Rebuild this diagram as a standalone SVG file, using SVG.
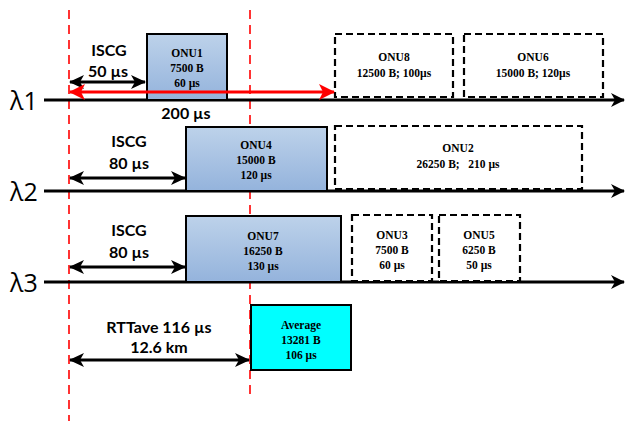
<svg xmlns="http://www.w3.org/2000/svg" width="626" height="421" viewBox="0 0 626 421">
<style>
.axis{stroke:#000;stroke-width:3;fill:none}
.vdash{stroke:#ff0000;stroke-width:1.6;stroke-dasharray:9,6;fill:none}
.barr{stroke:#000;stroke-width:3;fill:none}
.rarr{stroke:#ff0000;stroke-width:3;fill:none}
.blue{fill:url(#bg);stroke:#000;stroke-width:2}
.dbox{fill:#fff;stroke:#000;stroke-width:2.2;stroke-dasharray:7,4}
.avg{fill:#00ffff;stroke:#000;stroke-width:2}
.lam{font-family:"Open Sans","Liberation Sans",sans-serif;font-size:25px;fill:#000}
.lbl{font-family:Lato,"Open Sans",sans-serif;font-weight:bold;font-size:16px;fill:#000;text-anchor:middle}
.onu{font-family:"Liberation Serif",serif;font-weight:bold;font-size:11.5px;fill:#000;text-anchor:middle}
</style>
<defs>
<linearGradient id="bg" x1="0" y1="0" x2="0" y2="1">
<stop offset="0" stop-color="#bdd2ea"/>
<stop offset="1" stop-color="#94b3dc"/>
</linearGradient>
<marker id="ha" viewBox="0 0 15 14" refX="14" refY="7" markerWidth="15" markerHeight="14" markerUnits="userSpaceOnUse" orient="auto-start-reverse">
<path d="M0,0 L15,7 L0,14 L4,7 Z" fill="#000"/>
</marker>
<marker id="hb" viewBox="0 0 14 14" refX="13" refY="7" markerWidth="14" markerHeight="14" markerUnits="userSpaceOnUse" orient="auto-start-reverse">
<path d="M0,0 L14,7 L0,14 L4,7 Z" fill="#000"/>
</marker>
<marker id="hr" viewBox="0 0 16 16" refX="15" refY="8" markerWidth="16" markerHeight="16" markerUnits="userSpaceOnUse" orient="auto-start-reverse">
<path d="M0,0 L16,8 L0,16 L4,8 Z" fill="#ff0000"/>
</marker>
</defs>
<g id="guides">
<line class="vdash" x1="69" y1="10" x2="69" y2="421"/>
<line class="vdash" x1="250" y1="10" x2="250" y2="400"/>
</g>
<g id="axes">
<line class="axis" x1="44" y1="100" x2="624" y2="100" marker-end="url(#hb)"/>
<line class="axis" x1="44" y1="191" x2="624" y2="191" marker-end="url(#hb)"/>
<line class="axis" x1="44" y1="282" x2="624" y2="282" marker-end="url(#hb)"/>
<text class="lam" x="10" y="110">λ1</text>
<text class="lam" x="10" y="201">λ2</text>
<text class="lam" x="10" y="292">λ3</text>
</g>
<g id="onu1"><rect class="blue" x="147" y="34" width="80" height="66"/>
<text class="onu" x="187" y="57">ONU1</text><text class="onu" x="187" y="72">7500 B</text><text class="onu" x="187" y="87">60 µs</text></g>
<g id="onu8"><rect class="dbox" x="335" y="34" width="118" height="63"/>
<text class="onu" x="394" y="61">ONU8</text><text class="onu" x="394" y="77">12500 B; 100µs</text></g>
<g id="onu6"><rect class="dbox" x="464" y="34" width="139" height="63"/>
<text class="onu" x="533" y="61">ONU6</text><text class="onu" x="533" y="77">15000 B; 120µs</text></g>
<g id="onu4"><rect class="blue" x="186" y="127" width="141" height="64"/>
<text class="onu" x="256" y="149">ONU4</text><text class="onu" x="256" y="164">15000 B</text><text class="onu" x="256" y="179">120 µs</text></g>
<g id="onu2"><rect class="dbox" x="335" y="126" width="247" height="63"/>
<text class="onu" x="458" y="152">ONU2</text><text class="onu" x="458" y="168">26250 B;&#160;&#160; 210 µs</text></g>
<g id="onu7"><rect class="blue" x="186" y="216" width="155" height="66"/>
<text class="onu" x="263" y="240">ONU7</text><text class="onu" x="263" y="255">16250 B</text><text class="onu" x="263" y="270">130 µs</text></g>
<g id="onu3"><rect class="dbox" x="352" y="215" width="80" height="66"/>
<text class="onu" x="392" y="239">ONU3</text><text class="onu" x="392" y="254">7500 B</text><text class="onu" x="392" y="269">60 µs</text></g>
<g id="onu5"><rect class="dbox" x="439" y="215" width="81" height="66"/>
<text class="onu" x="479" y="239">ONU5</text><text class="onu" x="479" y="254">6250 B</text><text class="onu" x="479" y="269">50 µs</text></g>
<g id="average"><rect class="avg" x="251" y="305" width="100" height="65"/>
<text class="onu" x="301" y="329">Average</text><text class="onu" x="301" y="344">13281 B</text><text class="onu" x="301" y="359">106 µs</text></g>
<g id="connectors">
<line class="barr" x1="70" y1="82" x2="145" y2="82" marker-start="url(#ha)" marker-end="url(#ha)"/>
<line class="rarr" x1="70" y1="92" x2="334" y2="92" marker-start="url(#hr)" marker-end="url(#hr)"/>
<line class="barr" x1="70" y1="178" x2="185" y2="178" marker-start="url(#ha)" marker-end="url(#ha)"/>
<line class="barr" x1="70" y1="267" x2="185" y2="267" marker-start="url(#ha)" marker-end="url(#ha)"/>
<line class="barr" x1="70" y1="360" x2="249" y2="360" marker-start="url(#ha)" marker-end="url(#ha)"/>
</g>
<g id="labels">
<text class="lbl" x="109" y="56">ISCG</text><text class="lbl" x="108" y="77">50 µs</text>
<text class="lbl" x="186" y="119">200 µs</text>
<text class="lbl" x="129" y="147">ISCG</text><text class="lbl" x="129" y="169">80 µs</text>
<text class="lbl" x="129" y="236">ISCG</text><text class="lbl" x="129" y="258">80 µs</text>
<text class="lbl" x="159" y="333">RTTave 116 µs</text><text class="lbl" x="159" y="353">12.6 km</text>
</g>
</svg>
